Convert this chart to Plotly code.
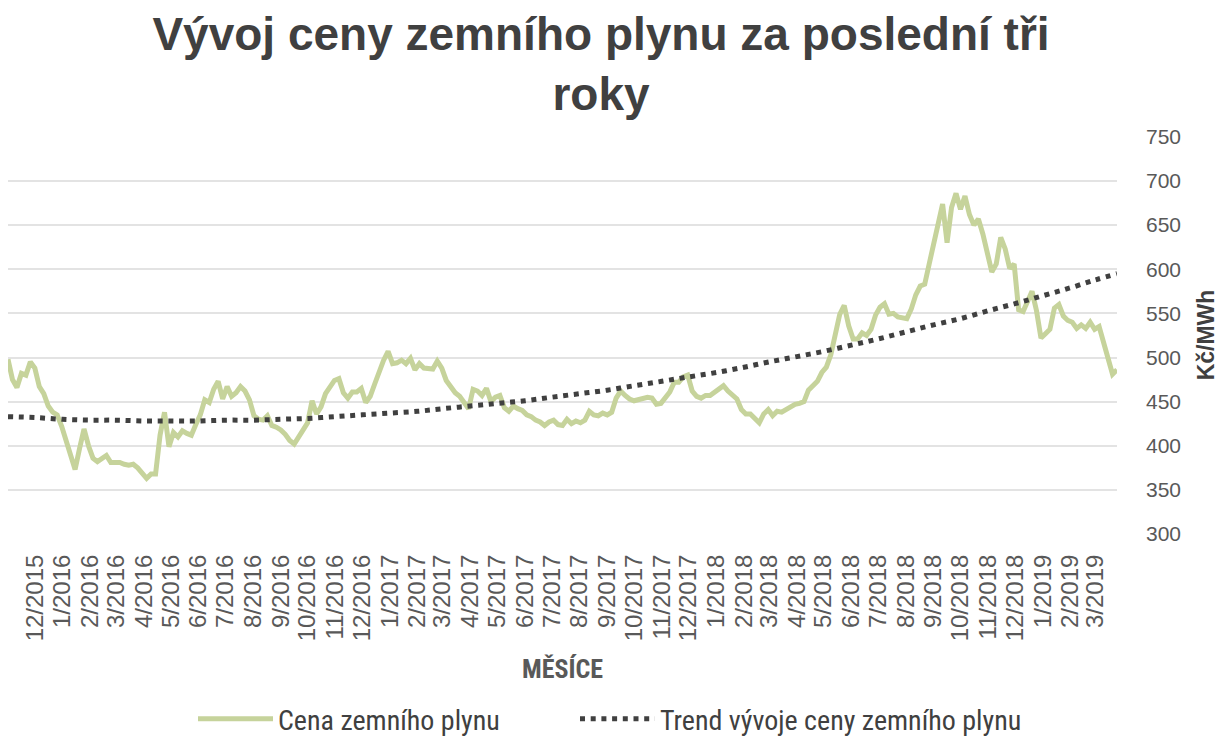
import pandas as pd
import plotly.graph_objects as go

# ---- data ----
start_date = "2015-11-01"
end_date = "2019-03-25"
step = "5D"

price_values = [
    498, 475, 466, 482, 480, 495, 488, 467, 459, 445,
    438, 435, 422, 404, 387, 373, 397, 419, 400, 386,
    382, 385, 389, 381, 381, 381, 379, 378, 379, 375,
    369, 363, 368, 368, 412, 438, 399, 415, 410, 417,
    414, 412, 424, 435, 452, 449, 464, 473, 453, 467,
    456, 460, 467, 462, 452, 434, 430, 429, 434, 423,
    421, 418, 413, 406, 402, 411, 418, 426, 451, 436,
    444, 459, 467, 474, 476, 460, 454, 461, 461, 465,
    449, 456, 470, 484, 497, 507, 493, 494, 497, 493,
    499, 486, 493, 488, 487, 487, 496, 488, 474, 467,
    460, 456, 449, 442, 464, 462, 457, 465, 450, 455,
    457, 443, 439, 445, 442, 440, 435, 433, 429, 427,
    423, 427, 429, 424, 423, 430, 425, 428, 426, 429,
    439, 435, 434, 437, 435, 438, 454, 462, 457, 453,
    451, 452, 453, 455, 454, 447, 448, 454, 461, 472,
    472, 478, 480, 462, 456, 454, 457, 457, 461, 465,
    468, 462, 458, 453, 441, 436, 436, 430, 426, 436,
    441, 434, 439, 438, 441, 445, 447, 448, 450, 463,
    468, 473, 483, 489, 503, 525, 549, 559, 536, 521,
    521, 528, 525, 532, 548, 557, 561, 549, 550, 546,
    545, 544, 555, 571, 581, 583, 606, 629, 647, 674,
    630, 670, 686, 668, 683, 662, 650, 657, 640, 620,
    597, 606, 636, 623, 601, 606, 554, 552, 564, 575,
    553, 522, 527, 532, 556, 560, 547, 542, 540, 533,
    537, 533, 540, 532, 535, 518, 499, 481, 486,
]

trend_values = [
    433, 432, 430, 429, 429, 428, 428, 428, 429, 429,
    430, 431, 433, 435, 437, 439, 442, 445, 448, 451,
    455, 459, 463, 468, 473, 478, 483, 489, 495, 501,
    507, 514, 521, 529, 537, 544, 553, 561, 570, 579,
    588, 595,
]

tick_labels = [
    "12/2015",
    "1/2016", "2/2016", "3/2016", "4/2016", "5/2016", "6/2016",
    "7/2016", "8/2016", "9/2016", "10/2016", "11/2016", "12/2016",
    "1/2017", "2/2017", "3/2017", "4/2017", "5/2017", "6/2017",
    "7/2017", "8/2017", "9/2017", "10/2017", "11/2017", "12/2017",
    "1/2018", "2/2018", "3/2018", "4/2018", "5/2018", "6/2018",
    "7/2018", "8/2018", "9/2018", "10/2018", "11/2018", "12/2018",
    "1/2019", "2/2019", "3/2019",
]

y_ticks = [300, 350, 400, 450, 500, 550, 600, 650, 700, 750]

title_text = "Vývoj ceny zemního plynu za poslední tři<br>roky"
series_names = ["Cena zemního plynu", "Trend vývoje ceny zemního plynu"]
x_title = "MĚSÍCE"
y_title = "Kč/MWh"

# ---- build ----
price_dates = pd.date_range(start_date, periods=len(price_values), freq=step)
trend_dates = list(pd.date_range(start_date, "2019-03-01", freq="MS")) + [pd.Timestamp(end_date)]
tick_dates = pd.date_range("2015-12-01", periods=len(tick_labels), freq="MS")

GREEN = "#c6d39b"
DARK = "#404040"
GREY = "#595959"
SANS = "Liberation Sans, Arial, sans-serif"
NARROW = "Liberation Sans Narrow, Roboto Condensed, Liberation Sans, sans-serif"

fig = go.Figure()
fig.add_trace(go.Scatter(
    x=price_dates, y=price_values, mode="lines", name=series_names[0],
    line=dict(color=GREEN, width=5), legend="legend", showlegend=True,
))
fig.add_trace(go.Scatter(
    x=trend_dates, y=trend_values, mode="lines", name=series_names[1],
    line=dict(color=DARK, width=5, dash="5px,5.7px", shape="spline"),
    legend="legend2", showlegend=True,
))

legend_common = dict(
    orientation="h", xanchor="left",
    yref="container", y=1 - 719 / 738, yanchor="middle",
    font=dict(family=NARROW, size=28, color=DARK),
    itemwidth=75, bgcolor="rgba(0,0,0,0)", visible=True,
)

fig.update_layout(
    width=1219, height=738,
    showlegend=True,
    paper_bgcolor="white", plot_bgcolor="white",
    margin=dict(l=8, r=102, t=136, b=204, autoexpand=False),
    title=dict(
        text=title_text, x=601 / 1219, xanchor="center",
        y=1 - 50 / 738, yanchor="top", yref="container",
        font=dict(family=SANS, size=46, color=DARK, weight="bold"),
    ),
    xaxis=dict(
        type="date", automargin=False,
        range=[start_date, end_date],
        tickvals=tick_dates, ticktext=tick_labels,
        tickangle=-90,
        tickfont=dict(family=SANS, size=24, color=GREY),
        showgrid=False, zeroline=False,
        showline=True, linecolor="white", linewidth=3,
        ticks="", ticklabelstandoff=8,
        title=dict(text=x_title, standoff=20,
                   font=dict(family=NARROW, size=26, color=GREY, weight="bold")),
    ),
    yaxis=dict(
        side="right", automargin=False, range=[300, 751], tickvals=y_ticks,
        tickfont=dict(family=SANS, size=21, color=GREY),
        showgrid=True, gridcolor="#e3e3e3", gridwidth=1.5,
        zeroline=False, showline=False, ticks="",
        ticklabelstandoff=28,
        title=dict(text=y_title, standoff=27,
                   font=dict(family=SANS, size=23, color=DARK, weight="bold")),
    ),
    legend=dict(legend_common, x=(193 - 8) / 1109),
    legend2=dict(legend_common, x=(575 - 8) / 1109),
)

fig.write_html("out.html", config={"displayModeBar": False},
               post_script="document.body.style.margin='0';")
